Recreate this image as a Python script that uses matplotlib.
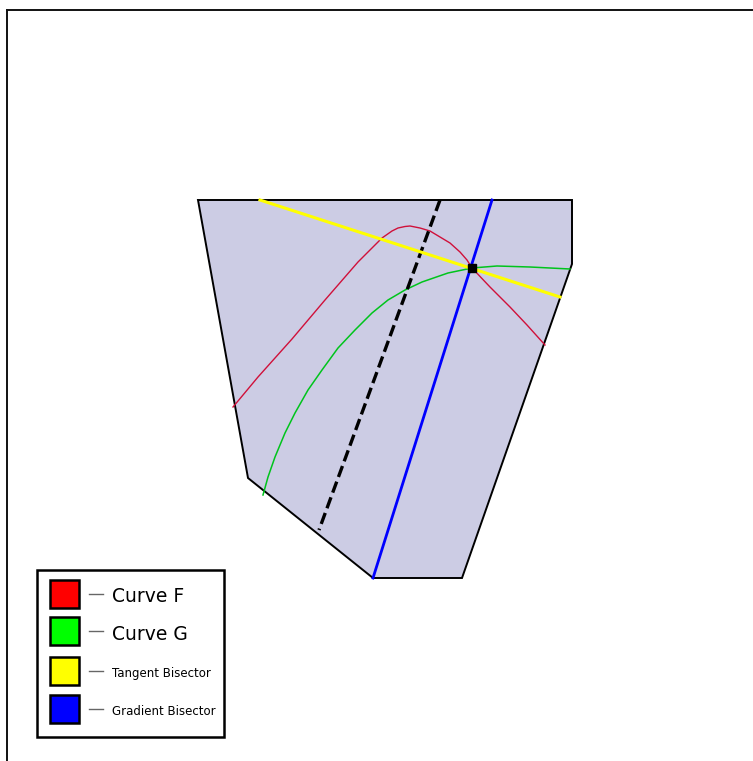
import matplotlib
matplotlib.use("Agg")
import matplotlib.pyplot as plt
from matplotlib.patches import Polygon, Rectangle

# Domain outline (data units)
region_x = [-1.87, 1.87, 1.87, 0.77, -0.12, -1.37]
region_y = [2.00, 2.00, 1.36, -1.78, -1.78, -0.78]

# Curve F samples
f_x = [-1.52, -1.27, -0.93, -0.60, -0.27, -0.15, -0.03, 0.07, 0.13, 0.20, 0.25,
       0.35, 0.45, 0.55, 0.65, 0.75, 0.82, 0.87, 1.05, 1.25, 1.42, 1.60]
f_y = [-0.07, 0.23, 0.61, 1.00, 1.38, 1.50, 1.62, 1.69, 1.72, 1.735, 1.74,
       1.72, 1.69, 1.63, 1.57, 1.48, 1.40, 1.32, 1.13, 0.93, 0.75, 0.55]

# Curve G samples
g_x = [-1.22, -1.17, -1.10, -1.00, -0.90, -0.77, -0.63, -0.47, -0.30, -0.13,
       0.03, 0.20, 0.37, 0.63, 0.87, 1.12, 1.45, 1.85]
g_y = [-0.95, -0.77, -0.57, -0.33, -0.13, 0.10, 0.30, 0.52, 0.70, 0.87,
       1.00, 1.10, 1.18, 1.27, 1.32, 1.34, 1.33, 1.31]

# Bisector segments (start, end)
tangent_x = [-1.25, 1.75]
tangent_y = [2.00, 1.03]
gradient_x = [-0.12, 1.07]
gradient_y = [-1.78, 2.00]
dashed_x = [0.55, -0.66]
dashed_y = [2.00, -1.30]

# Intersection point
pt_x, pt_y = 0.87, 1.32

legend_labels = ["Curve F", "Curve G", "Tangent Bisector", "Gradient Bisector"]
legend_colors = ["#ff0000", "#00ff00", "#ffff00", "#0000ff"]
legend_sizes = [13.5, 13.5, 8.5, 8.5]

fig = plt.figure(figsize=(7.53, 7.61), dpi=100)
ax = fig.add_axes([7 / 753, -10 / 761, 756 / 753, 1.0])
ax.set_xlim(-3.78, 3.78)
ax.set_ylim(-3.71, 3.90)
ax.set_xticks([])
ax.set_yticks([])
for side in ["left", "top", "right", "bottom"]:
    ax.spines[side].set_linewidth(1.4)
    ax.spines[side].set_color("#111111")

ax.add_patch(Polygon(list(zip(region_x, region_y)), closed=True,
                     facecolor="#ccccE4", edgecolor="black", linewidth=1.4, zorder=1))

ax.plot(f_x, f_y, color="#d0103a", lw=1.0, zorder=3, solid_joinstyle="round")
ax.plot(g_x, g_y, color="#00c41c", lw=1.1, zorder=3, solid_joinstyle="round")
ax.plot(dashed_x, dashed_y, color="black", lw=2.4, dashes=(3.5, 1.5), zorder=4)
ax.plot(gradient_x, gradient_y, color="#0000ff", lw=2.0, zorder=4)
ax.plot(tangent_x, tangent_y, color="#ffff00", lw=2.2, zorder=4)
ax.plot([pt_x], [pt_y], marker="s", color="black", ms=6, zorder=6)

# legend drawn in pixel space
lax = fig.add_axes([0, 0, 1, 1])
lax.set_xlim(0, 753)
lax.set_ylim(761, 0)
lax.axis("off")
lax.add_patch(Rectangle((37, 570), 187, 167, facecolor="white",
                        edgecolor="black", linewidth=1.8))
row_top = [580, 617, 657, 695]
for top, lab, col, fs in zip(row_top, legend_labels, legend_colors, legend_sizes):
    lax.add_patch(Rectangle((50, top), 29, 28, facecolor=col,
                            edgecolor="black", linewidth=1.8))
    lax.plot([89, 103], [top + 14, top + 14], color="#666666", lw=1.0)
    lax.text(112, top + 15, lab, fontsize=fs, va="center_baseline", ha="left")

fig.savefig("out.png", dpi=100, facecolor="white")
